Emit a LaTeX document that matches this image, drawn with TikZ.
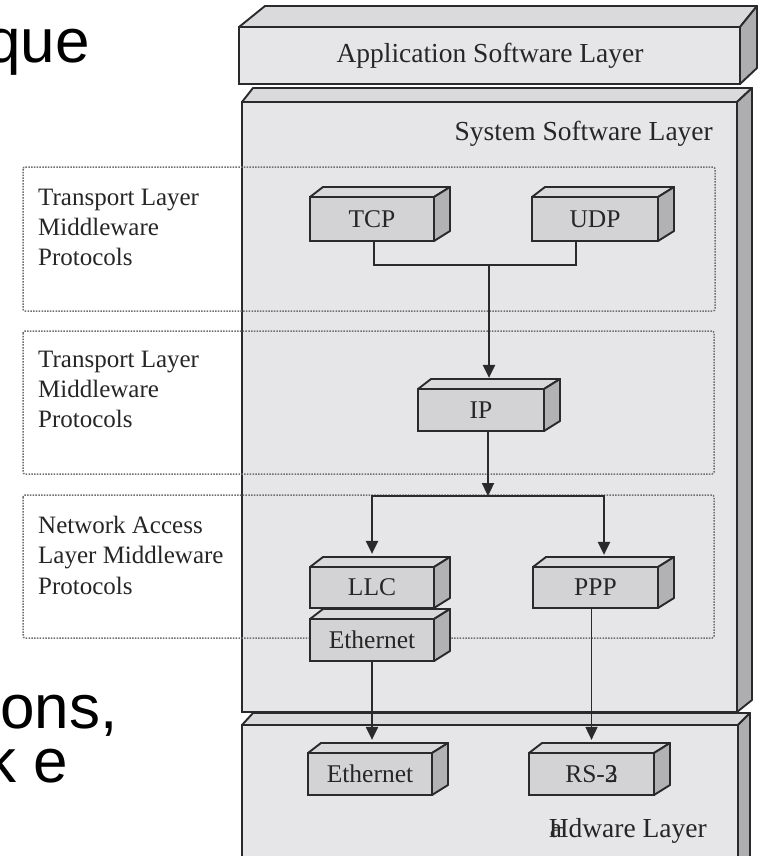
\documentclass[tikz,border=0pt]{standalone}
\usepackage{fontspec}
\setmainfont{Liberation Serif}
\newfontfamily\slidefont{Liberation Sans}
\usetikzlibrary{arrows.meta}
\definecolor{linec}{HTML}{2A2A2C}
\definecolor{textc}{HTML}{262626}
\definecolor{layerc}{HTML}{E6E6E8}
\definecolor{topc}{HTML}{DADADC}
\definecolor{sidec}{HTML}{AEAEB0}
\definecolor{blkc}{HTML}{D3D3D5}
\definecolor{blktopc}{HTML}{D9D9DB}
\definecolor{blksidec}{HTML}{B2B2B4}
\definecolor{dotc}{HTML}{6E6E70}
\newcommand\blk[6]{%
  \path[blktop] (#2,#3) -- (#2+13,#3-10) -- (#4+16,#3-10) -- (#4,#3) -- cycle;
  \path[blkside] (#4,#3) -- (#4+16,#3-10) -- (#4+16,#5-10) -- (#4,#5) -- cycle;
  \node[blkfront, minimum width=#4-#2, minimum height=#5-#3] (#1) at ({(#2+#4)/2},{(#3+#5)/2}) {#6};
}
\begin{document}
\begin{tikzpicture}[x=1pt,y=-1pt,
  layerfront/.style={draw=linec, line width=2.3pt, fill=layerc, inner sep=0pt},
  layertop/.style={draw=linec, line width=1.9pt, fill=topc, line join=round},
  layerside/.style={draw=linec, line width=1.9pt, fill=sidec, line join=round},
  blkfront/.style={draw=linec, line width=2.2pt, fill=blkc, inner sep=0pt, text=textc, font=\fontsize{25.5}{30}\selectfont},
  blktop/.style={draw=linec, line width=1.9pt, fill=blktopc, line join=round},
  blkside/.style={draw=linec, line width=1.9pt, fill=blksidec, line join=round},
  title/.style={font=\fontsize{27.5}{33}\selectfont, inner sep=0pt, text=textc},
  lbl/.style={font=\fontsize{25}{30.3}\selectfont, align=left, inner sep=0pt, anchor=north west, text=textc},
  conn/.style={draw=linec, line width=2.3pt},
  arr/.style={conn, -{Triangle[length=13pt,width=12pt]}},
  thinarr/.style={draw=linec, line width=1.7pt, -{Triangle[length=13pt,width=12pt]}},
  zone/.style={draw=dotc, line width=1.5pt, dash pattern=on 1.5pt off 1.3pt, rounded corners=2pt},
  slide/.style={font=\slidefont\fontsize{62}{70}\selectfont, inner sep=0pt, text=black}]
\useasboundingbox (0,0) rectangle (759,856);
\clip (0,0) rectangle (759,856);
\fill[white] (0,0) rectangle (759,856);

% slide text fragments
\node[slide, anchor=base east] (que) at (90,63) {que};
\node[slide, anchor=base west] (ons) at (0,728) {ons,};
\node[slide, anchor=base east] (ke) at (68,782) {k e};

% Hardware layer
\path[layertop] (242,725) -- (253,713) -- (750,713) -- (738,725) -- cycle;
\path[layerside] (738,725) -- (750,713) -- (750,870) -- (738,870) -- cycle;
\node[layerfront, minimum width=496, minimum height=145] (hw) at (490,797.5) {};
\node[title, anchor=base east] (hwt) at (707,837) {\rlap{\kern1pt a}Hdware Layer};

% System software layer
\path[layertop] (242,102) -- (253,88) -- (752,88) -- (737,102) -- cycle;
\path[layerside] (737,102) -- (752,88) -- (752,700) -- (737,712) -- cycle;
\node[layerfront, minimum width=495, minimum height=610] (sys) at (489.5,407) {};
\node[title, anchor=base east] (syst) at (713,140) {System Software Layer};

% Application software layer
\path[layertop] (239,27) -- (265,6) -- (757,6) -- (740,27) -- cycle;
\path[layerside] (740,27) -- (757,6) -- (757,68) -- (740,84) -- cycle;
\node[layerfront, minimum width=501, minimum height=57] (app) at (489.5,55.5) {};
\node[title, anchor=base] (appt) at (490,63) {Application Software Layer};

% dotted zones
\draw[zone] (23,167) rectangle (715,311);
\draw[zone] (23,331) rectangle (714,474);
\draw[zone] (23,495) rectangle (714,638);
\node[lbl] (z1) at (38,188.5) {Transport Layer\\Middleware\\Protocols};
\node[lbl] (z2) at (38,350.5) {Transport Layer\\Middleware\\Protocols};
\node[lbl] (z3) at (38,516) {Network Access\\Layer Middleware\\Protocols};

% protocol blocks
\blk{tcp}{310}{197}{434}{241}{TCP}
\blk{udp}{532}{197}{658}{241}{UDP}
\blk{ip}{418}{389}{544}{431}{IP}
\blk{llc}{310}{567}{434}{608}{LLC}
\blk{eths}{310}{619}{434}{661}{Ethernet}
\blk{ppp}{533}{567}{658}{608}{PPP}
\blk{ethh}{308}{753}{432}{795}{Ethernet}
\blk{rs}{529}{753}{654}{795}{RS-\rlap{2}3\hspace{20pt}}

% connectors
\coordinate (j1) at (489,265);
\coordinate (j2) at (488,496);
\coordinate (iptop) at ([yshift=10pt]ip.north);
\coordinate (llctop) at ([yshift=12pt]llc.north);
\coordinate (ppptop) at ([xshift=8.5pt,yshift=11pt]ppp.north);
\coordinate (ethhtop) at ([yshift=12pt]ethh.north);
\coordinate (rstop) at ([yshift=12pt]rs.north);
\draw[conn] ([xshift=2pt]tcp.south) |- (j1) -| ([xshift=-19pt]udp.south);
\draw[arr] (j1) -- (j1 |- iptop);
\draw[arr] (ip.south -| j2) -- (j2);
\draw[arr] (j2) -| (llctop);
\draw[arr] (j2) -| (ppptop);
\draw[arr] (eths.south) -- (eths.south |- ethhtop);
\draw[thinarr] ([xshift=-4pt]ppp.south) -- (rstop);
\end{tikzpicture}
\end{document}
